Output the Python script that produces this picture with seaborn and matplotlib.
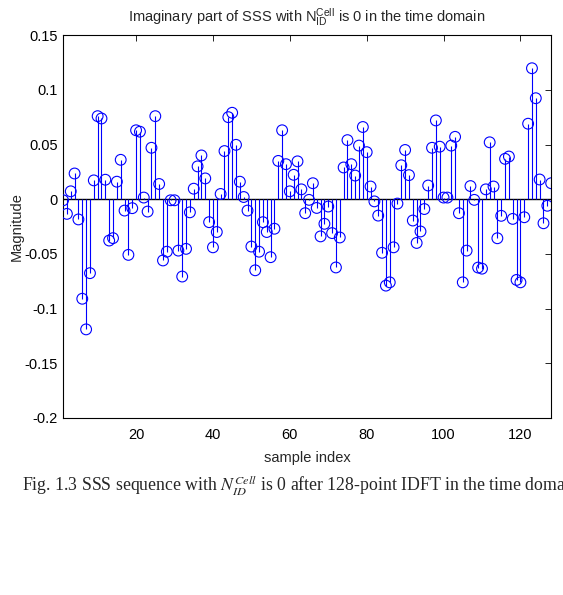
import numpy as np
import pandas as pd
import matplotlib
matplotlib.use("Agg")
import matplotlib.pyplot as plt
import seaborn as sns

sample_index = list(range(1, 129))
magnitude = [
    -0.001, -0.0134, 0.0072, 0.0235, -0.0185, -0.091, -0.119, -0.0676, 0.0172, 0.0759,
    0.0738, 0.0178, -0.0378, -0.0356, 0.016, 0.036, -0.0104, -0.0509, -0.0082, 0.063,
    0.0617, 0.0015, -0.0113, 0.047, 0.0759, 0.0139, -0.056, -0.048, -0.001, -0.001,
    -0.047, -0.0707, -0.0454, -0.012, 0.0096, 0.030, 0.040, 0.019, -0.021, -0.044,
    -0.030, 0.0048, 0.044, 0.075, 0.079, 0.0497, 0.016, 0.002, -0.0104, -0.0433,
    -0.065, -0.048, -0.021, -0.030, -0.053, -0.027, 0.035, 0.063, 0.032, 0.0072,
    0.0223, 0.0346, 0.009, -0.0128, -0.0006, 0.0146, -0.008, -0.034, -0.0225, -0.0067,
    -0.031, -0.0624, -0.035, 0.029, 0.054, 0.032, 0.0216, 0.049, 0.066, 0.043,
    0.0116, -0.002, -0.015, -0.049, -0.079, -0.076, -0.044, -0.004, 0.031, 0.045,
    0.022, -0.0195, -0.040, -0.0295, -0.009, 0.0125, 0.047, 0.072, 0.048, 0.0015,
    0.0015, 0.049, 0.057, -0.0128, -0.076, -0.047, 0.012, -0.0006, -0.0625, -0.0635,
    0.009, 0.052, 0.0116, -0.0357, -0.0152, 0.0369, 0.039, -0.018, -0.0738, -0.076,
    -0.0165, 0.069, 0.1197, 0.0923, 0.018, -0.022, -0.006, 0.0146,
]
x_ticks = [20, 40, 60, 80, 100, 120]
y_ticks = [-0.2, -0.15, -0.1, -0.05, 0, 0.05, 0.1, 0.15]
y_tick_labels = ["-0.2", "-0.15", "-0.1", "-0.05", "0", "0.05", "0.1", "0.15"]

df = pd.DataFrame({"sample index": sample_index, "Magnitude": magnitude})

sns.set_theme(style="white")
plt.rcParams["font.family"] = ["Liberation Sans", "DejaVu Sans"]
plt.rcParams["mathtext.fontset"] = "custom"
plt.rcParams["mathtext.rm"] = "Liberation Sans"
plt.rcParams["mathtext.it"] = "Liberation Sans"

fig = plt.figure(figsize=(5.63, 5.95), dpi=100)
ax = fig.add_axes([0.112, 0.2975, 0.867, 0.6435])

blue = (0.0, 0.0, 1.0)
ax.axhline(0, color="black", lw=1.0, zorder=1)
ax.vlines(df["sample index"], 0, df["Magnitude"], color=blue, lw=0.8, zorder=2)
sns.scatterplot(data=df, x="sample index", y="Magnitude", ax=ax, marker="o",
                s=60, facecolors="none", edgecolor=blue, linewidth=0.8, zorder=3)

ax.set_xlim(1, 128)
ax.set_ylim(-0.2, 0.15)
ax.set_xticks(x_ticks)
ax.set_xticklabels([str(t) for t in x_ticks])
ax.set_yticks(y_ticks)
ax.set_yticklabels(y_tick_labels)
ax.tick_params(direction="in", length=4, width=0.6, top=True, right=True,
               labelsize=10.5, colors="black")
ax.tick_params(axis="x", pad=7.5)
ax.tick_params(axis="y", pad=4)
for s in ax.spines.values():
    s.set_color("black")
    s.set_linewidth(0.8)
ax.set_xlabel("sample index", fontsize=10.5, labelpad=6.5)
ax.set_ylabel("Magnitude", fontsize=10.5, labelpad=0)
ax.set_title(r"Imaginary part of SSS with N$^{\rm Cell}_{\rm ID}$ is 0 in the time domain",
             fontsize=10.5, pad=10)

fig.text(0.039, 0.183,
         r"Fig. 1.3 SSS sequence with $N_{ID}^{Cell}$ is 0 after 128-point IDFT in the time domain",
         fontsize=12.8, family=["Liberation Serif", "DejaVu Serif"],
         math_fontfamily="stix", ha="left", va="center")

fig.savefig("out.png", dpi=100, facecolor="white")
